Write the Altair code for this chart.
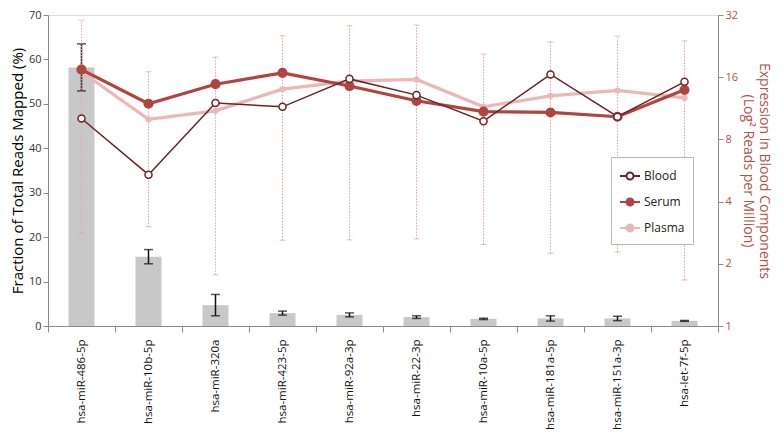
import altair as alt
import pandas as pd

mirnas = ["hsa-miR-486-5p", "hsa-miR-10b-5p", "hsa-miR-320a", "hsa-miR-423-5p",
          "hsa-miR-92a-3p", "hsa-miR-22-3p", "hsa-miR-10a-5p", "hsa-miR-181a-5p",
          "hsa-miR-151a-3p", "hsa-let-7f-5p"]
fraction = [58.2, 15.6, 4.7, 2.9, 2.5, 2.0, 1.6, 1.7, 1.7, 1.15]
fraction_err = [5.3, 1.6, 2.4, 0.45, 0.45, 0.3, 0.15, 0.6, 0.5, 0.1]
blood = [10.1, 5.4, 12.0, 11.5, 15.7, 13.1, 9.8, 16.5, 10.3, 15.2]
serum = [17.4, 11.9, 14.8, 16.8, 14.5, 12.3, 10.9, 10.8, 10.3, 13.9]
plasma = [17.0, 10.0, 11.0, 14.0, 15.3, 15.6, 11.5, 13.0, 13.8, 12.7]
range_high = [30.2, 17.0, 20.0, 25.4, 28.4, 28.6, 20.7, 23.7, 25.3, 24.0]
range_low = [2.81, 3.02, 1.77, 2.60, 2.61, 2.64, 2.48, 2.25, 2.28, 1.67]
right_ticks = [1, 2, 4, 8, 16, 32]
series_names = ["Blood", "Serum", "Plasma"]
series_stroke = ["#6b2424", "#b0453f", "#eab9b5"]
series_fill = ["#ffffff", "#b0453f", "#eab9b5"]
series_width = [1.5, 3.2, 3.2]
series_size = [50, 75, 22]

FONT = "Open Sans"
RED = "#b5504a"
# left axis spans 0..70 and the right log2 axis spans 1..32 (5 doublings) over the same height
UNITS_PER_DOUBLING = 70 / 5
TO_LEFT = "log({f}) / log(2) * " + str(UNITS_PER_DOUBLING)
right_tick_pos = [0, 14, 28, 42, 56, 70]

df_bar = pd.DataFrame({"miRNA": mirnas, "fraction": fraction, "err": fraction_err})
df_bar["lo"] = df_bar["fraction"] - df_bar["err"]
df_bar["hi"] = df_bar["fraction"] + df_bar["err"]

df_range = pd.DataFrame({"miRNA": mirnas, "lo": range_low, "hi": range_high})

rows = []
for name, vals in [("Plasma", plasma), ("Serum", serum), ("Blood", blood)]:
    for m, v in zip(mirnas, vals):
        rows.append({"miRNA": m, "series": name, "value": v})
df_lines = pd.DataFrame(rows)

x_enc = alt.X("miRNA:N", sort=mirnas,
              scale=alt.Scale(paddingInner=0, paddingOuter=0),
              axis=alt.Axis(title=None, labelAngle=270, labelAlign="right",
                            labelBaseline="middle", tickBand="extent",
                            labelFontSize=11.5, labelFont=FONT, labelColor="#111",
                            labelPadding=7, tickSize=6, domainColor="#8c8c8c",
                            tickColor="#8c8c8c"))

y_scale = alt.Scale(domain=[0, 70], nice=False)
left_title = "Fraction of Total Reads Mapped (%)"
left_axis = alt.Axis(values=[0, 10, 20, 30, 40, 50, 60, 70], grid=False, orient="left",
                     labelFontSize=11, labelFont=FONT, labelColor="#333",
                     titleFontSize=15, titleFont=FONT, titleFontWeight="normal",
                     titleColor="#000", titlePadding=3, tickSize=5,
                     domainColor="#8c8c8c", tickColor="#8c8c8c")
right_title = ["Expression in Blood Components", "(Log\u00b2 Reads per Million)"]
right_axis = alt.Axis(orient="right", grid=False,
                      values=right_tick_pos,
                      labelExpr="pow(2, round(datum.value / " + str(UNITS_PER_DOUBLING) + "))",
                      labelFontSize=11, labelFont=FONT, labelColor=RED,
                      titleFontSize=14, titleFont=FONT, titleFontWeight="normal",
                      titleColor=RED, titlePadding=3, tickSize=5,
                      domainColor="#8c8c8c", tickColor="#8c8c8c")


def yax(field, axis=None, title=None):
    if axis is None:
        return alt.Y(field, scale=y_scale, axis=None)
    return alt.Y(field, scale=y_scale, axis=axis, title=title)


bars = alt.Chart(df_bar).mark_bar(size=26, color="#c8c8c8").encode(
    x=x_enc, y=yax("fraction:Q", left_axis, left_title))
err_rule = alt.Chart(df_bar).mark_rule(color="#111", strokeWidth=1.5).encode(
    x=x_enc, y=yax("lo:Q"), y2="hi:Q")
err_lo = alt.Chart(df_bar).mark_tick(color="#111", size=9, thickness=1.5).encode(
    x=x_enc, y=yax("lo:Q"))
err_hi = alt.Chart(df_bar).mark_tick(color="#111", size=9, thickness=1.5).encode(
    x=x_enc, y=yax("hi:Q"))

DOT = "#e4a2a2"
rng_base = alt.Chart(df_range).transform_calculate(
    lo_t=TO_LEFT.format(f="datum.lo"), hi_t=TO_LEFT.format(f="datum.hi"))
rng_rule = rng_base.mark_rule(color=DOT, strokeWidth=1, strokeDash=[1.5, 1.5]).encode(
    x=x_enc, y=yax("lo_t:Q", right_axis, right_title), y2="hi_t:Q")
rng_lo = rng_base.mark_tick(color=DOT, size=6, thickness=1).encode(
    x=x_enc, y=yax("lo_t:Q"))
rng_hi = rng_base.mark_tick(color=DOT, size=6, thickness=1).encode(
    x=x_enc, y=yax("hi_t:Q"))

line_base = alt.Chart(df_lines).transform_calculate(v_t=TO_LEFT.format(f="datum.value"))

legend = alt.Legend(
    title=None, orient="none", legendX=563, legendY=142,
    symbolType="M-1,0H-0.35M0.35,0H1M0.35,0A0.35,0.35 0 1,1 -0.35,0A0.35,0.35 0 1,1 0.35,0Z",
    symbolSize=400, symbolStrokeWidth=2, labelFontSize=12, labelFont=FONT,
    labelColor="#222", padding=8, rowPadding=7, strokeColor="#b8b8b8",
    fillColor="#ffffff", labelOffset=3)

stroke_enc = alt.Stroke("series:N", scale=alt.Scale(domain=series_names, range=series_stroke),
                        legend=legend)
fill_enc = alt.Fill("series:N", scale=alt.Scale(domain=series_names, range=series_fill),
                    legend=legend)

line_layers = []
point_layers = []
for name in ["Plasma", "Serum", "Blood"]:
    i = series_names.index(name)
    sub = line_base.transform_filter(alt.datum.series == name)
    line_layers.append(
        sub.mark_line(color=series_stroke[i], strokeWidth=series_width[i])
        .encode(x=x_enc, y=yax("v_t:Q")))
    point_layers.append(
        sub.mark_point(filled=True, opacity=1, strokeWidth=1.5, size=series_size[i])
        .encode(x=x_enc, y=yax("v_t:Q"), stroke=stroke_enc, fill=fill_enc))

chart = alt.layer(
    bars, err_rule, err_lo, err_hi, rng_rule, rng_lo, rng_hi,
    line_layers[0], point_layers[0], line_layers[1], point_layers[1],
    line_layers[2], point_layers[2]
).resolve_axis(y="independent").properties(
    width=670, height=311,
    autosize=alt.AutoSizeParams(type="none"),
    padding={"left": 40, "top": 7, "right": 58, "bottom": 105},
).configure_view(stroke=None).configure(background="white")

chart.save("out.html", embed_options={"renderer": "svg", "actions": False})
